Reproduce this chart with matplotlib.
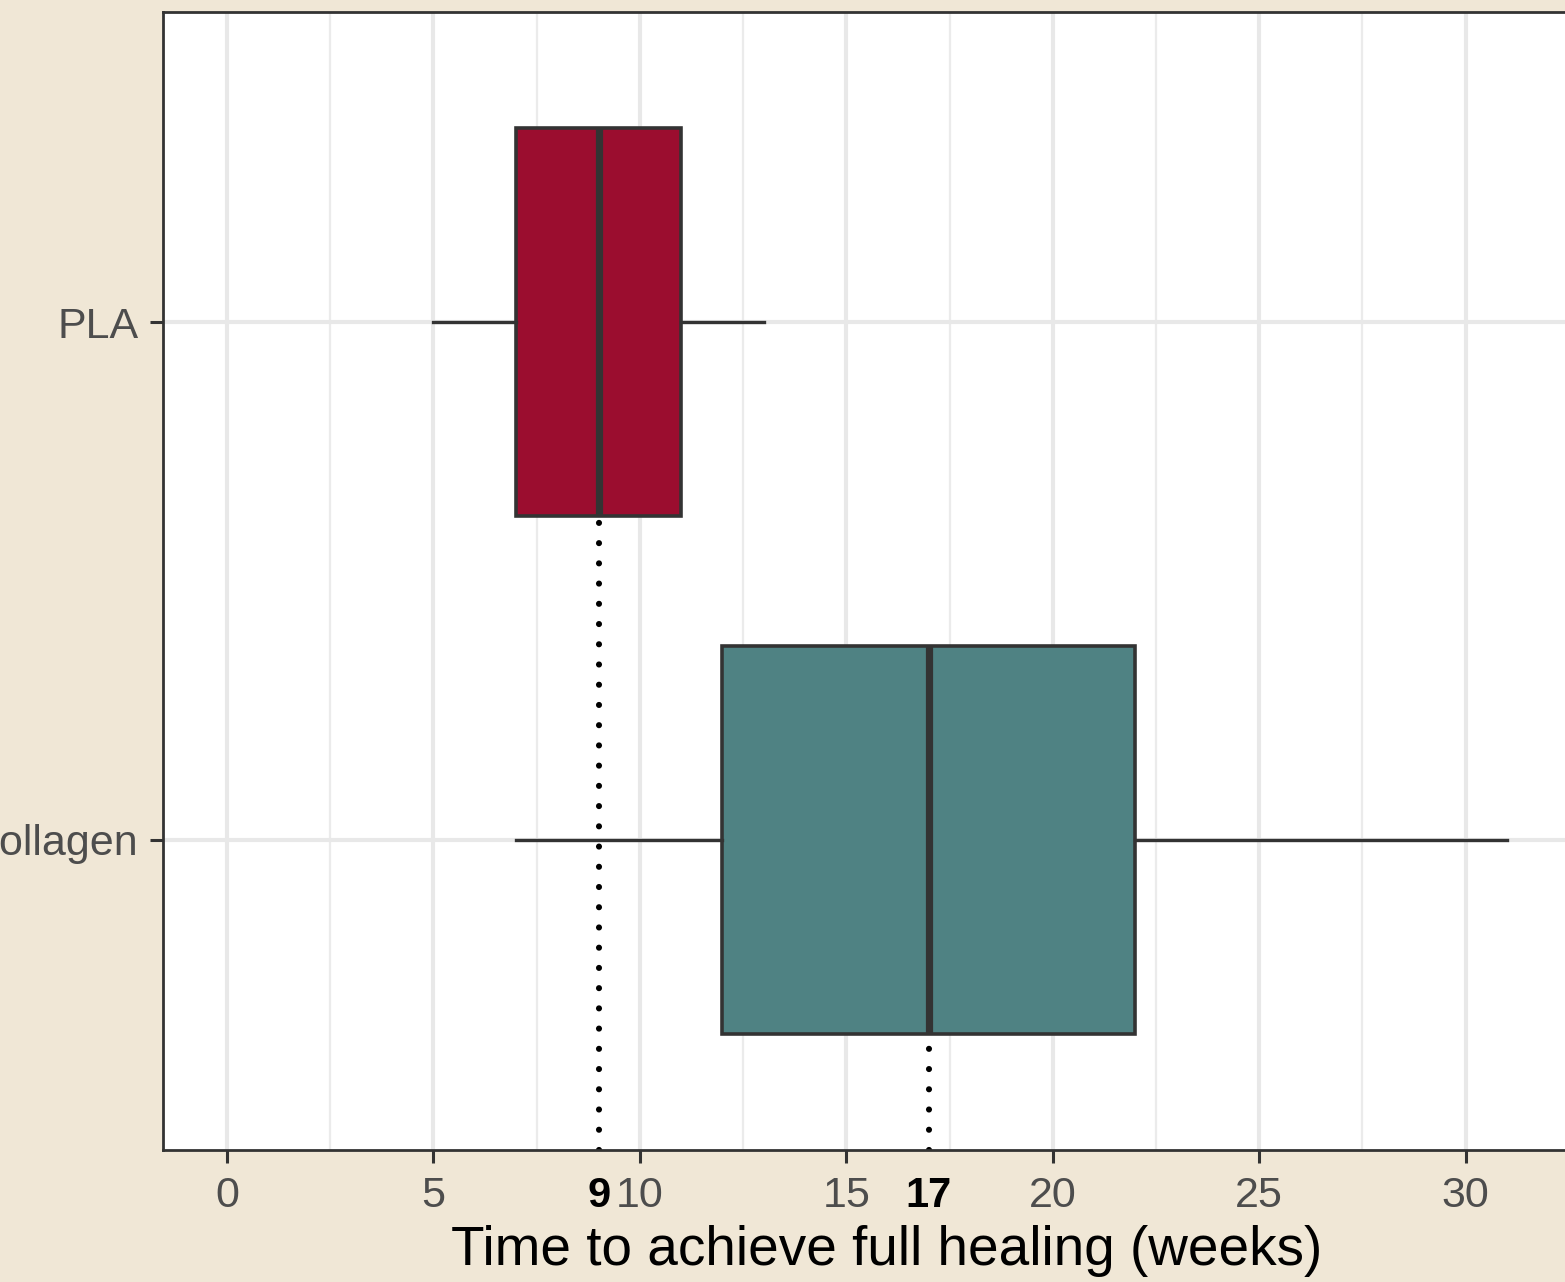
import numpy as np
import matplotlib
matplotlib.use("Agg")
import matplotlib.pyplot as plt

# data (weeks)
groups = ["Collagen", "PLA"]
whis_lo = [7, 5]
q1 = [12, 7]
med = [17, 9]
q3 = [22, 11]
whis_hi = [31, 13]
fills = ["#4F8283", "#9B0D2F"]

major_ticks = [0, 5, 10, 15, 20, 25, 30]
minor_grid = [2.5, 7.5, 12.5, 17.5, 22.5, 27.5]

bg = "#F0E7D6"
edge = "#333333"

plt.rcParams["font.family"] = ["Liberation Sans", "DejaVu Sans"]

fig = plt.figure(figsize=(15.65, 12.82), dpi=100, facecolor=bg)
ax = fig.add_axes([163 / 1565, 132 / 1282, 1408 / 1565, 1138 / 1282])
ax.set_facecolor("white")

pos = np.arange(1, len(groups) + 1)
stats = []
for i, g in enumerate(groups):
    stats.append(dict(label=g, whislo=whis_lo[i], q1=q1[i], med=med[i],
                      q3=q3[i], whishi=whis_hi[i], fliers=[]))

bp = ax.bxp(stats, positions=pos, vert=False, widths=0.75, patch_artist=True,
            showcaps=False, zorder=3,
            boxprops=dict(edgecolor=edge, linewidth=2.6),
            whiskerprops=dict(color=edge, linewidth=2.4),
            medianprops=dict(color=edge, linewidth=5.2, solid_capstyle="butt"))
for b, c in zip(bp["boxes"], fills):
    b.set_facecolor(c)

# dotted median drop lines
for i in range(len(groups)):
    ax.vlines(med[i], 0.4, pos[i] - 0.375, colors="black", linewidth=4.4,
              linestyles=(0, (0.01, 3.3)), capstyle="round", zorder=2)

ax.set_xlim(-1.55, 32.55)
ax.set_ylim(0.4, 2.6)

# grid
ax.set_xticks(major_ticks)
ax.set_xticklabels([str(t) for t in major_ticks])
ax.grid(True, which="major", color="#E8E8E8", linewidth=3.0, zorder=0)
for g in minor_grid:
    ax.axvline(g, color="#EBEBEB", linewidth=1.6, zorder=0)
ax.set_axisbelow(True)

# highlighted medians as unmarked minor ticks
ax.set_xticks(med, minor=True)
ax.set_xticklabels([str(m) for m in med], minor=True, fontweight="bold",
                   fontsize=30, color="black")

ax.set_yticks(pos)
ax.set_yticklabels(groups)

ax.tick_params(axis="both", which="major", length=9.4, width=2.2, color=edge,
               labelsize=31, labelcolor="#4D4D4D")
ax.tick_params(axis="x", which="major", pad=9)
ax.tick_params(axis="y", which="major", pad=8)
ax.tick_params(axis="x", which="minor", length=0, pad=9 + 9.4)

for s in ["left", "bottom", "top"]:
    ax.spines[s].set_color(edge)
    ax.spines[s].set_linewidth(2.0)
ax.spines["right"].set_visible(False)

ax.set_xlabel("Time to achieve full healing (weeks)", fontsize=39.5, color="black")
ax.xaxis.set_label_coords(0.514, -0.066)

fig.savefig("out.png", dpi=100, facecolor=bg)
